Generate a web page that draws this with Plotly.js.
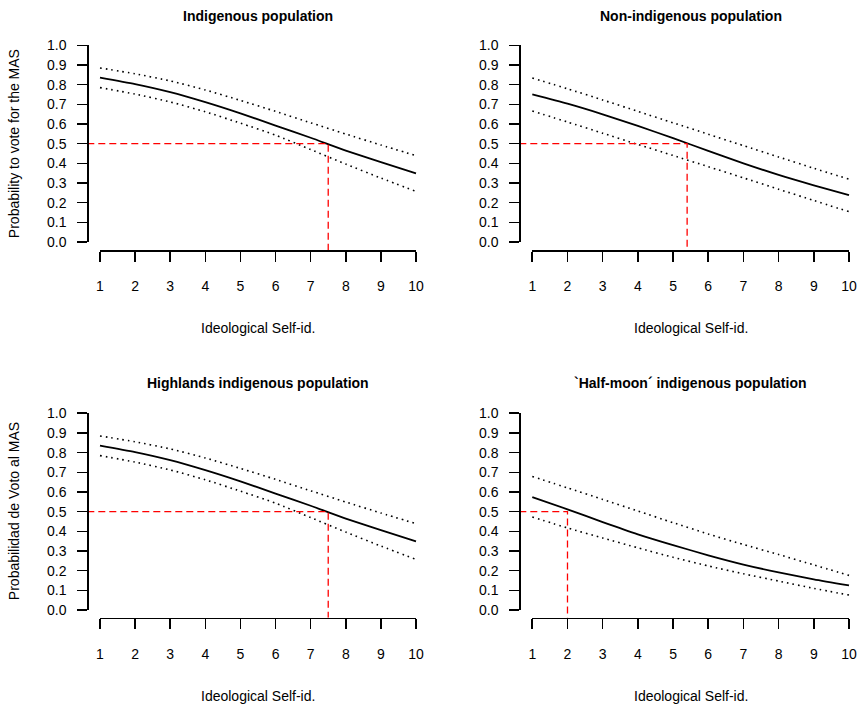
<!DOCTYPE html>
<html>
<head>
<meta charset="utf-8">
<script src="https://cdn.plot.ly/plotly-3.0.1.min.js"></script>
<style>
html,body{margin:0;padding:0;background:#ffffff;}
#chart{width:859px;height:707px;}
</style>
</head>
<body>
<div id="chart"></div>
<script>
// ---------------- data ----------------
const ideology = [1, 2, 3, 4, 5, 6, 7, 8, 9, 10];
const probTicks = [0, 0.1, 0.2, 0.3, 0.4, 0.5, 0.6, 0.7, 0.8, 0.9, 1.0];

const panelTitles = [
  "Indigenous population",
  "Non-indigenous population",
  "Highlands indigenous population",
  "\u0060Half-moon\u00B4 indigenous population"
];
const yTitles = ["Probability to vote for the MAS", "", "Probabilidad de Voto al MAS", ""];
const xTitle = "Ideological Self-id.";

const indigMean  = [0.836, 0.803, 0.762, 0.711, 0.654, 0.592, 0.530, 0.465, 0.406, 0.349];
const indigUpper = [0.885, 0.855, 0.819, 0.773, 0.720, 0.664, 0.606, 0.549, 0.493, 0.439];
const indigLower = [0.785, 0.752, 0.712, 0.662, 0.604, 0.543, 0.470, 0.396, 0.325, 0.257];

const nonIndigMean  = [0.750, 0.703, 0.649, 0.590, 0.528, 0.463, 0.400, 0.341, 0.288, 0.238];
const nonIndigUpper = [0.834, 0.779, 0.722, 0.664, 0.606, 0.548, 0.490, 0.432, 0.375, 0.319];
const nonIndigLower = [0.666, 0.610, 0.553, 0.496, 0.440, 0.383, 0.326, 0.268, 0.211, 0.154];

const highlandsMean  = [0.836, 0.803, 0.762, 0.711, 0.654, 0.592, 0.530, 0.465, 0.406, 0.349];
const highlandsUpper = [0.885, 0.855, 0.819, 0.773, 0.720, 0.664, 0.606, 0.549, 0.493, 0.439];
const highlandsLower = [0.785, 0.752, 0.712, 0.662, 0.604, 0.543, 0.470, 0.396, 0.325, 0.257];

const halfMoonMean  = [0.574, 0.512, 0.447, 0.385, 0.330, 0.278, 0.231, 0.191, 0.156, 0.125];
const halfMoonUpper = [0.679, 0.621, 0.562, 0.503, 0.444, 0.386, 0.333, 0.282, 0.229, 0.176];
const halfMoonLower = [0.473, 0.417, 0.366, 0.316, 0.268, 0.224, 0.184, 0.147, 0.110, 0.076];

// ideology value where predicted probability reaches the 0.5 threshold
const thresholdProb = 0.5;
const crossIdeology = [7.5, 5.4, 7.5, 2.0];

const series = [
  {mean: indigMean, upper: indigUpper, lower: indigLower},
  {mean: nonIndigMean, upper: nonIndigUpper, lower: nonIndigLower},
  {mean: highlandsMean, upper: highlandsUpper, lower: highlandsLower},
  {mean: halfMoonMean, upper: halfMoonUpper, lower: halfMoonLower}
];

// ---------------- layout geometry (pixels) ----------------
const W = 859, H = 707;
const geo = [
  {x1: 100.0, x10: 416.0, yAx: 87.3,  y0: 242.0, y1: 45.3,  xAx: 250.0, titleY: 15.7,  xTitleY: 328.0},
  {x1: 532.3, x10: 849.0, yAx: 519.3, y0: 242.0, y1: 45.3,  xAx: 250.0, titleY: 15.7,  xTitleY: 328.0},
  {x1: 100.0, x10: 416.0, yAx: 87.3,  y0: 610.0, y1: 413.3, xAx: 617.7, titleY: 383.3, xTitleY: 695.5},
  {x1: 532.3, x10: 849.0, yAx: 519.3, y0: 610.0, y1: 413.3, xAx: 617.7, titleY: 383.3, xTitleY: 695.5}
];

const FONT = "'Liberation Sans', Arial, sans-serif";
const traces = [];
const layout = {
  width: W, height: H,
  margin: {l: 0, r: 0, t: 0, b: 0, pad: 0},
  paper_bgcolor: "#ffffff",
  plot_bgcolor: "rgba(0,0,0,0)",
  showlegend: false,
  font: {family: FONT, color: "#000000", size: 14},
  annotations: []
};

geo.forEach((g, i) => {
  const n = i + 1, d = i + 5;
  const ux = (g.x10 - g.x1) / 9;
  const leftPx = g.yAx;
  const rightPxFull = g.x10 + (g.x1 - g.yAx);
  const rightPx = Math.min(W, rightPxFull);
  const xRange = [1 - (g.x1 - leftPx) / ux, 10 + (rightPx - g.x10) / ux];
  const uy = g.y0 - g.y1;
  const botPx = g.xAx;
  const topPx = g.y1 - (g.xAx - g.y0);
  const yRange = [-(botPx - g.y0) / uy, 1 + (g.y1 - topPx) / uy];

  // data axes (plot region, hidden)
  layout["xaxis" + n] = {domain: [leftPx / W, rightPx / W], range: xRange, anchor: "y" + n,
                         visible: false, fixedrange: true};
  layout["yaxis" + n] = {domain: [1 - botPx / H, 1 - topPx / H], range: yRange, anchor: "x" + n,
                         visible: false, fixedrange: true};

  // R-style detached display axes
  layout["xaxis" + d] = {
    domain: [g.x1 / W, g.x10 / W], range: [1, 10], anchor: "free", position: 1 - g.xAx / H,
    tickmode: "array", tickvals: ideology, ticktext: ideology.map(String),
    ticks: "outside", ticklen: 10, tickwidth: 1.6, tickcolor: "#000",
    showline: true, linewidth: 1.6, linecolor: "#000",
    showgrid: false, zeroline: false, fixedrange: true,
    tickfont: {family: FONT, size: 14, color: "#000"}, ticklabelstandoff: 13
  };
  layout["yaxis" + d] = {
    domain: [1 - g.y0 / H, 1 - g.y1 / H], range: [0, 1], anchor: "free", position: g.yAx / W,
    side: "left", tickmode: "array", tickvals: probTicks, ticktext: probTicks.map(v => v.toFixed(1)),
    ticks: "outside", ticklen: 10, tickwidth: 1.6, tickcolor: "#000",
    showline: true, linewidth: 1.6, linecolor: "#000",
    showgrid: false, zeroline: false, fixedrange: true,
    tickfont: {family: FONT, size: 14, color: "#000"}, ticklabelstandoff: 8
  };
  traces.push({x: [], y: [], type: "scatter", mode: "lines", xaxis: "x" + d, yaxis: "y" + d,
               hoverinfo: "skip", showlegend: false});

  const s = series[i];
  const xa = "x" + n, ya = "y" + n;
  traces.push({x: ideology, y: s.upper, xaxis: xa, yaxis: ya, type: "scatter", mode: "lines",
               line: {color: "#000", width: 1.6, dash: "1.6px,4px", shape: "spline", smoothing: 0.6}});
  traces.push({x: ideology, y: s.lower, xaxis: xa, yaxis: ya, type: "scatter", mode: "lines",
               line: {color: "#000", width: 1.6, dash: "1.6px,4px", shape: "spline", smoothing: 0.6}});
  traces.push({x: ideology, y: s.mean, xaxis: xa, yaxis: ya, type: "scatter", mode: "lines",
               line: {color: "#000", width: 1.8, shape: "spline", smoothing: 0.6}});
  traces.push({x: [xRange[0], crossIdeology[i], crossIdeology[i]],
               y: [thresholdProb, thresholdProb, yRange[0]],
               xaxis: xa, yaxis: ya, type: "scatter", mode: "lines",
               line: {color: "#ff0000", width: 1.3, dash: "7px,4px"}});

  const centerPx = (leftPx + rightPxFull) / 2;
  layout.annotations.push({text: "<b>" + panelTitles[i] + "</b>", xref: "paper", yref: "paper",
    x: centerPx / W, y: 1 - g.titleY / H, xanchor: "center", yanchor: "middle", showarrow: false,
    font: {family: FONT, size: 14, color: "#000"}});
  layout.annotations.push({text: xTitle, xref: "paper", yref: "paper",
    x: centerPx / W, y: 1 - g.xTitleY / H, xanchor: "center", yanchor: "middle", showarrow: false,
    font: {family: FONT, size: 14, color: "#000"}});
  if (yTitles[i]) {
    layout.annotations.push({text: yTitles[i], xref: "paper", yref: "paper", textangle: -90,
      x: 13.5 / W, y: 1 - ((topPx + botPx) / 2) / H, xanchor: "center", yanchor: "middle",
      showarrow: false, font: {family: FONT, size: 14, color: "#000"}});
  }
});

Plotly.newPlot("chart", traces, layout, {displayModeBar: false, staticPlot: true});
</script>
</body>
</html>
